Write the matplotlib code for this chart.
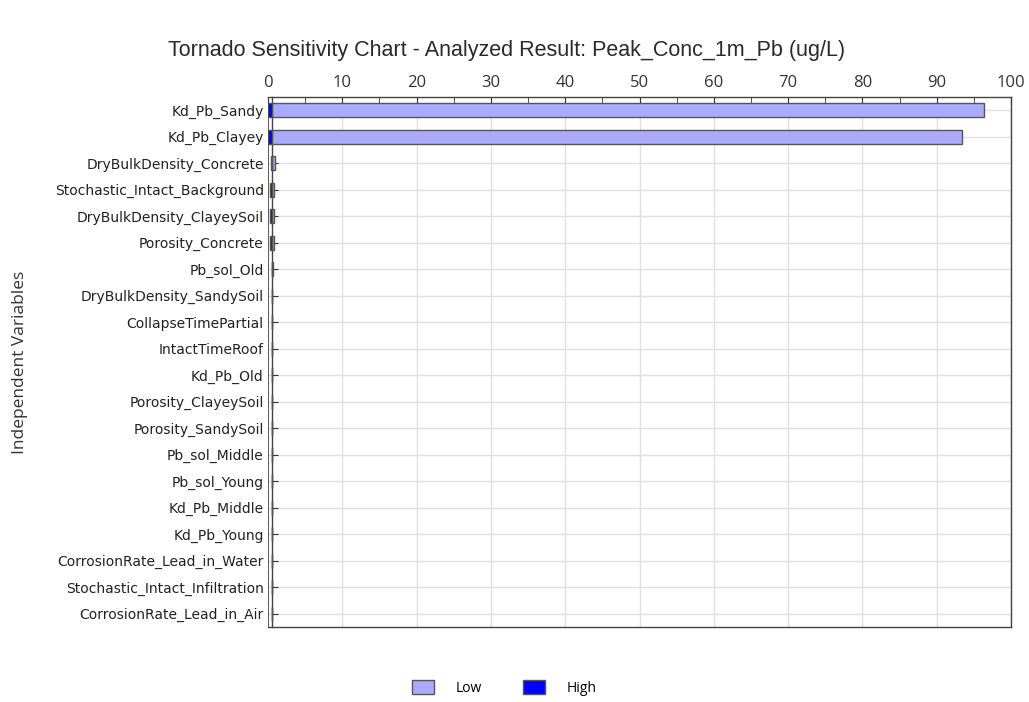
import matplotlib.pyplot as plt
import numpy as np
from matplotlib.patches import Patch

variables = [
    "Kd_Pb_Sandy", "Kd_Pb_Clayey", "DryBulkDensity_Concrete",
    "Stochastic_Intact_Background", "DryBulkDensity_ClayeySoil",
    "Porosity_Concrete", "Pb_sol_Old", "DryBulkDensity_SandySoil",
    "CollapseTimePartial", "IntactTimeRoof", "Kd_Pb_Old",
    "Porosity_ClayeySoil", "Porosity_SandySoil", "Pb_sol_Middle",
    "Pb_sol_Young", "Kd_Pb_Middle", "Kd_Pb_Young",
    "CorrosionRate_Lead_in_Water", "Stochastic_Intact_Infiltration",
    "CorrosionRate_Lead_in_Air",
]
base_value = 0.55
low_values = [96.4, 93.4, 0.9, 0.8, 0.78, 0.78, 0.6, 0.58, 0.57, 0.57,
              0.56, 0.56, 0.56, 0.56, 0.56, 0.56, 0.56, 0.56, 0.56, 0.56]
high_values = [0.0, 0.0, 0.45, 0.25, 0.3, 0.3, 0.5, 0.52, 0.53, 0.53,
               0.54, 0.54, 0.54, 0.54, 0.54, 0.54, 0.54, 0.54, 0.54, 0.54]

low_color = "#AAAAFF"
high_color = "#0000FF"
edge = "#555555"

fig = plt.figure(figsize=(10.29, 7.02), dpi=100)
ax = fig.add_axes([0.2605, 0.107, 0.722, 0.755])

y = np.arange(len(variables))
low = np.array(low_values) - base_value
high = np.array(high_values) - base_value
ax.barh(y, low, left=base_value, height=0.52, color=low_color,
        edgecolor=edge, linewidth=1.0, zorder=3)
ax.barh(y, high, left=base_value, height=0.52, color=high_color,
        edgecolor=edge, linewidth=1.0, zorder=3)

ax.set_xlim(0, 100)
ax.set_ylim(len(variables) - 0.5, -0.5)
ax.set_yticks(y)
ax.set_yticklabels(variables, fontsize=10.2, family="Open Sans", color="#222222")

ax.xaxis.tick_top()
ax.set_xticks(np.arange(0, 101, 10))
ax.set_xticks(np.arange(5, 100, 10), minor=True)
ax.tick_params(axis="x", which="both", direction="in", colors="#333333",
               labelsize=12, pad=4)
ax.tick_params(axis="x", which="major", length=5)
ax.tick_params(axis="x", which="minor", length=4)
for lab in ax.get_xticklabels():
    lab.set_family("Open Sans")

# category axis crosses at the base value
ax.spines["left"].set_position(("data", base_value))
ax.tick_params(axis="y", direction="in", length=4, colors="#333333",
               labelcolor="#222222", pad=6)
ax.axvline(0, color="#444444", linewidth=1.2, zorder=4)
for s in ["top", "right", "bottom", "left"]:
    ax.spines[s].set_color("#444444")
    ax.spines[s].set_linewidth(1.0)

ax.grid(True, color="#E0E0E0", linewidth=1.0)
ax.set_axisbelow(True)

ax.set_ylabel("Independent Variables", fontsize=12.5, family="Open Sans",
              color="#333333")
ax.yaxis.set_label_coords(-0.323, 0.5)

fig.suptitle("Tornado Sensitivity Chart - Analyzed Result: Peak_Conc_1m_Pb (ug/L)",
             x=0.492, y=0.943, fontsize=15.5, family="Liberation Sans", color="#2a2a2a")

handles = [Patch(facecolor=low_color, edgecolor=edge, label="Low"),
           Patch(facecolor=high_color, edgecolor=edge, label="High")]
fig.legend(handles=handles, loc="center", bbox_to_anchor=(0.49, 0.02), ncol=2,
           frameon=False, prop={"family": "Open Sans", "size": 10},
           handlelength=1.6, handleheight=1.2, columnspacing=3.0, handletextpad=1.5)

fig.savefig("out.png", dpi=100)
